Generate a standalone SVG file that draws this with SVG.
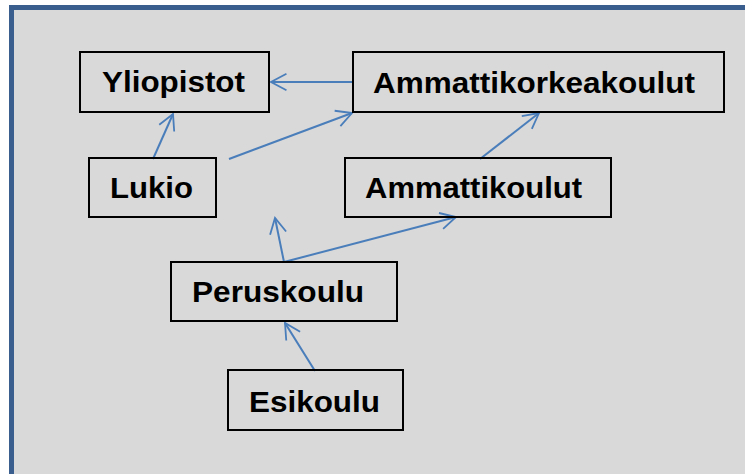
<svg xmlns="http://www.w3.org/2000/svg" width="745" height="474" viewBox="0 0 745 474">
<defs>
<style>
.box{fill:none;stroke:#000;stroke-width:2}
.lbl{font-family:"Liberation Sans",Arial,sans-serif;font-weight:bold;font-size:30px;fill:#000}
.con{stroke:#4a7ebb;stroke-width:2;fill:none}
</style>
<marker id="arr" markerUnits="userSpaceOnUse" orient="auto" refX="0" refY="0" markerWidth="20" markerHeight="20" viewBox="-20 -10 22 20" overflow="visible">
<path d="M-17,-9 L0,0 L-17,9" fill="none" stroke="#4a7ebb" stroke-width="2"/>
</marker>
</defs>
<rect x="0" y="0" width="745" height="474" fill="#fff"/>
<rect x="9" y="5" width="736" height="469" fill="#3a5f8f"/>
<rect x="14" y="10" width="731" height="464" fill="#d9d9d9"/>
<g id="connectors">
<line class="con" x1="353" y1="82" x2="271" y2="82" marker-end="url(#arr)"/>
<line class="con" x1="153" y1="159" x2="173" y2="114" marker-end="url(#arr)"/>
<line class="con" x1="229" y1="159" x2="352" y2="113" marker-end="url(#arr)"/>
<line class="con" x1="480" y1="159" x2="539" y2="113" marker-end="url(#arr)"/>
<line class="con" x1="284" y1="262" x2="275" y2="218" marker-end="url(#arr)"/>
<line class="con" x1="284" y1="262" x2="456" y2="217" marker-end="url(#arr)"/>
<line class="con" x1="315" y1="371" x2="285" y2="323" marker-end="url(#arr)"/>
</g>
<g id="yliopistot">
<rect class="box" x="80" y="52" width="189" height="60"/>
<text class="lbl" x="102" y="92" textLength="143" lengthAdjust="spacingAndGlyphs">Yliopistot</text>
</g>
<g id="ammattikorkeakoulut">
<rect class="box" x="353" y="52" width="371" height="60"/>
<text class="lbl" x="373" y="93" textLength="322" lengthAdjust="spacingAndGlyphs">Ammattikorkeakoulut</text>
</g>
<g id="lukio">
<rect class="box" x="89" y="158" width="127" height="59"/>
<text class="lbl" x="110" y="198" textLength="83" lengthAdjust="spacingAndGlyphs">Lukio</text>
</g>
<g id="ammattikoulut">
<rect class="box" x="345" y="158" width="266" height="59"/>
<text class="lbl" x="365" y="198" textLength="217" lengthAdjust="spacingAndGlyphs">Ammattikoulut</text>
</g>
<g id="peruskoulu">
<rect class="box" x="171" y="262" width="226" height="59"/>
<text class="lbl" x="192" y="302" textLength="172" lengthAdjust="spacingAndGlyphs">Peruskoulu</text>
</g>
<g id="esikoulu">
<rect class="box" x="228" y="370" width="175" height="60"/>
<text class="lbl" x="249" y="412" textLength="131" lengthAdjust="spacingAndGlyphs">Esikoulu</text>
</g>
</svg>
